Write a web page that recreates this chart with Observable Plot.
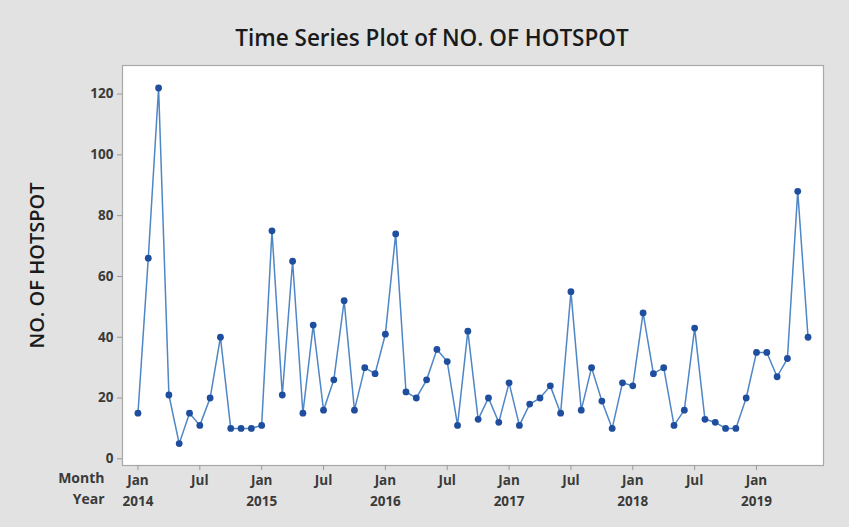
<!DOCTYPE html>
<html>
<head>
<meta charset="utf-8">
<script src="https://cdn.jsdelivr.net/npm/d3@7"></script>
<script src="https://cdn.jsdelivr.net/npm/@observablehq/plot@0.6"></script>
<style>
  html, body { margin: 0; padding: 0; background: #e2e2e2; }
  #wrap { position: relative; width: 849px; height: 527px; background: #e2e2e2; overflow: hidden; font-family: "Open Sans", "Noto Sans", sans-serif; }
  #title { position: absolute; left: 0; width: 864px; top: 22px; text-align: center; font-size: 22.5px; font-weight: 600; color: #1a1a1a; }
  #chart { position: absolute; left: 0; top: 50px; }
</style>
</head>
<body>
<div id="wrap">
  <div id="title">Time Series Plot of NO. OF HOTSPOT</div>
  <div id="chart"></div>
</div>
<script>
// Monthly counts, Jan 2014 .. Jun 2019
const years = ["2014", "2015", "2016", "2017", "2018", "2019"];
const monthNames = ["Jan", "Jul"];
const hotspots2014 = [15, 66, 122, 21, 5, 15, 11, 20, 40, 10, 10, 10];
const hotspots2015 = [11, 75, 21, 65, 15, 44, 16, 26, 52, 16, 30, 28];
const hotspots2016 = [41, 74, 22, 20, 26, 36, 32, 11, 42, 13, 20, 12];
const hotspots2017 = [25, 11, 18, 20, 24, 15, 55, 16, 30, 19, 10, 25];
const hotspots2018 = [24, 48, 28, 30, 11, 16, 43, 13, 12, 10, 10, 20];
const hotspots2019 = [35, 35, 27, 33, 88, 40];
const yTicks = [0, 20, 40, 60, 80, 100, 120];

const values = [...hotspots2014, ...hotspots2015, ...hotspots2016, ...hotspots2017, ...hotspots2018, ...hotspots2019];
const data = values.map((v, i) => ({ t: i, v }));
const monthTicks = d3.range(0, values.length, 6);
const yearTicks = d3.range(0, values.length, 12);

const labelStyle = { fontSize: 13.5, fontWeight: 700, fill: "#3a3a3a" };

const chart = Plot.plot({
  width: 849,
  height: 477,
  marginLeft: 122,
  marginRight: 26,
  marginTop: 15,
  marginBottom: 62,
  style: { background: "transparent", fontFamily: "'Open Sans', 'Noto Sans', sans-serif" },
  x: { domain: [-1.5, 66.5] },
  y: { domain: [-2.2, 129.4] },
  marks: [
    Plot.frame({ fill: "white", stroke: "#a8a8a8", strokeWidth: 1.2 }),
    Plot.axisY({ ticks: yTicks, tickSize: 5, tickPadding: 4, stroke: "#999", label: null, ...labelStyle }),
    Plot.axisX({ ticks: monthTicks, tickSize: 5, tickPadding: 5, stroke: "#999", label: null,
                 tickFormat: d => monthNames[(d % 12) / 6], ...labelStyle }),
    Plot.axisX({ ticks: yearTicks, tickSize: 0, tickPadding: 31, label: null,
                 tickFormat: d => years[d / 12], ...labelStyle }),
    Plot.text(["Month"], { frameAnchor: "bottom-left", dx: -18, dy: 17, textAnchor: "end", ...labelStyle, fontSize: 14 }),
    Plot.text(["Year"], { frameAnchor: "bottom-left", dx: -18, dy: 38, textAnchor: "end", ...labelStyle, fontSize: 14 }),
    Plot.text(["NO. OF HOTSPOT"], { frameAnchor: "left", dx: -85, rotate: -90, textAnchor: "middle", fontSize: 20, fontWeight: 600, fill: "#1a1a1a" }),
    Plot.line(data, { x: "t", y: "v", stroke: "#4f86c6", strokeWidth: 1.5 }),
    Plot.dot(data, { x: "t", y: "v", r: 3.4, fill: "#1f4e9e", stroke: "none" })
  ]
});
document.getElementById("chart").appendChild(chart);
</script>
</body>
</html>
